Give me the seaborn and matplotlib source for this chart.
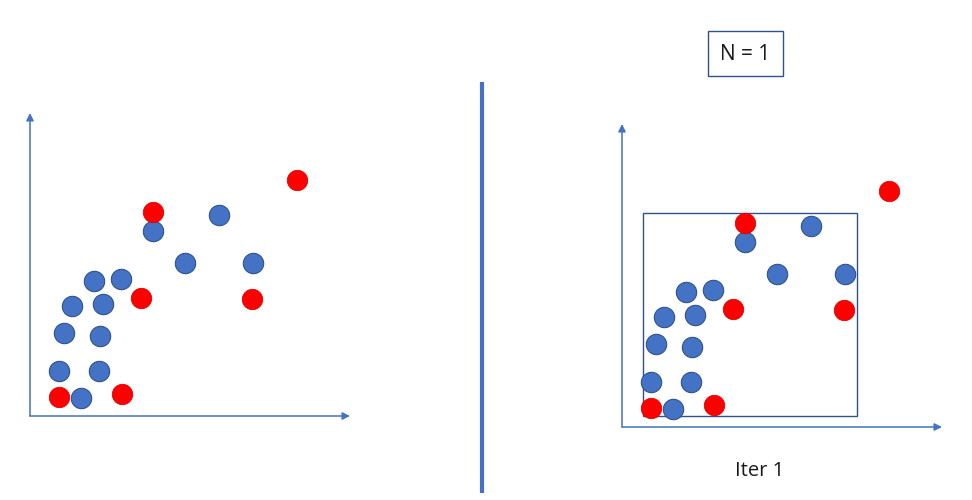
import matplotlib
matplotlib.use("Agg")
import matplotlib.pyplot as plt
import pandas as pd
import seaborn as sns
from matplotlib.patches import Rectangle
from matplotlib.lines import Line2D

# Points of the toy dataset, measured from each panel's origin (pixels, y up)
red_x = [267, 123, 111, 222, 29, 92]
red_y = [236, 204, 118, 117, 19, 22]
blue_x = [189, 123, 155, 223, 64, 91, 42, 73, 34, 70, 29, 69, 51]
blue_y = [201, 185, 153, 153, 135, 137, 110, 112, 83, 80, 45, 45, 18]

# Bounding box drawn in the second panel (same units)
box_x0, box_y0, box_x1, box_y1 = 21, 11, 235, 214

title_text = "N = 1"
caption_text = "Iter 1"

BLUE = "#4472C4"
BLUE_EDGE = "#2F528F"
RED = "#FF0000"

df_red = pd.DataFrame({"x": red_x, "y": red_y})
df_blue = pd.DataFrame({"x": blue_x, "y": blue_y})

sns.set_style("white")
plt.rcParams["font.family"] = ["Open Sans", "DejaVu Sans"]

W, H = 972, 500
fig = plt.figure(figsize=(W / 100, H / 100), dpi=100)

AX_W, AX_H = 320, 303


def make_panel(ox, oy):
    # ox, oy: pixel position of the panel origin (top-left based)
    ax = fig.add_axes([ox / W, (H - oy) / H, AX_W / W, AX_H / H])
    ax.set_xlim(0, AX_W)
    ax.set_ylim(0, AX_H)
    ax.axis("off")
    arrow = dict(arrowstyle="-|>", color=BLUE, lw=1.1, mutation_scale=11,
                 shrinkA=0, shrinkB=0)
    ax.annotate("", xy=(1, 0), xytext=(0, 0), xycoords="axes fraction", arrowprops=arrow)
    ax.annotate("", xy=(0, 1), xytext=(0, 0), xycoords="axes fraction", arrowprops=arrow)
    sns.scatterplot(data=df_blue, x="x", y="y", ax=ax, color=BLUE, s=215,
                    edgecolor=BLUE_EDGE, linewidth=0.8, clip_on=False, zorder=3)
    sns.scatterplot(data=df_red, x="x", y="y", ax=ax, color=RED, s=215,
                    edgecolor="#E00000", linewidth=0.6, clip_on=False, zorder=3)
    return ax


make_panel(30, 416)
ax2 = make_panel(622, 427)
ax2.add_patch(Rectangle((box_x0, box_y0), box_x1 - box_x0, box_y1 - box_y0,
                        fill=False, edgecolor=BLUE_EDGE, lw=1.0, zorder=2))

# divider
fig.add_artist(Line2D([482 / W, 482 / W], [1 - 82 / H, 1 - 493 / H],
                      color=BLUE, lw=3.0, solid_capstyle="butt"))

# "N = 1" box
fig.add_artist(Rectangle((708 / W, 1 - 76 / H), 75 / W, 45 / H, fill=False,
                         edgecolor=BLUE_EDGE, lw=1.0, transform=fig.transFigure))
fig.text(745.5 / W, 1 - 55 / H, title_text, ha="center", va="center",
         fontsize=15, color="#1a1a1a")
fig.text(760 / W, 1 - 471 / H, caption_text, ha="center", va="center",
         fontsize=14.5, color="#1a1a1a")

fig.savefig("out.png", dpi=100)
